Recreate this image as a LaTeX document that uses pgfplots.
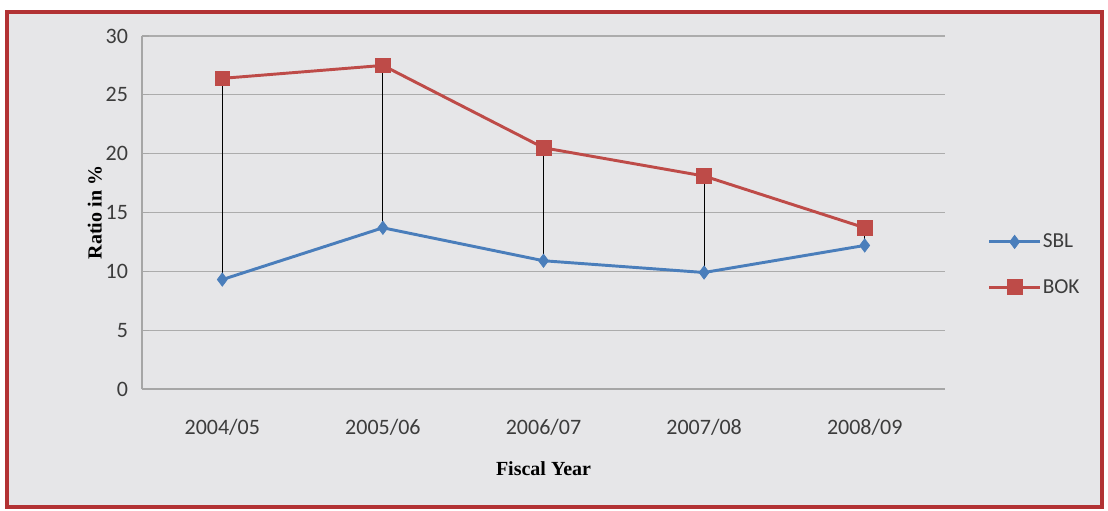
\documentclass[border=0pt]{standalone}
\usepackage{pgfplots}
\pgfplotsset{compat=1.18}
\usepackage{fontspec}
\setmainfont{Carlito}
\newfontfamily\serifb{Liberation Serif}
\definecolor{sbl}{RGB}{74,126,187}
\definecolor{bok}{RGB}{190,75,72}
\definecolor{bg}{RGB}{230,230,232}
\definecolor{frame}{RGB}{178,50,52}
\definecolor{txt}{RGB}{60,60,60}
\begin{document}
\begin{tikzpicture}[x=0.75pt,y=0.75pt]
\path[fill=white] (-142,-122) rectangle (966,389);
\draw[frame, line width=2.5pt, fill=bg] (-135,-118) rectangle (960,377);
\begin{axis}[
  at={(0,0)}, anchor=south west,
  scale only axis, width=602.25pt, height=264.75pt,
  xmin=-0.5, xmax=4.5, ymin=0, ymax=30,
  ytick={0,5,...,30},
  xtick={0,1,2,3,4},
  xticklabels={2004/05,2005/06,2006/07,2007/08,2008/09},
  /pgf/number format/assume math mode=true,
  axis x line*=bottom, axis y line*=left,
  axis line style={draw=gray!70, line width=0.8pt, -},
  ymajorgrids, grid style={gray!65, line width=0.8pt},
  major tick length=5pt,
  ytick style={draw=gray!70, line width=0.8pt},
  xtick style={draw=none},
  tick label style={font=\fontsize{16.5}{18}\selectfont, text=txt},
  yticklabel style={xshift=-7pt},
  xticklabel style={yshift=-19pt},
  xlabel={\serifb\bfseries Fiscal Year},
  ylabel={\serifb\bfseries Ratio in \%},
  label style={font=\fontsize{15}{17}\selectfont},
  xlabel style={yshift=-13pt},
  ylabel style={yshift=-4pt},
  legend style={at={(1.048,0.455)}, anchor=north west, draw=none, fill=none,
    font=\fontsize{16}{18}\selectfont, text=txt, row sep=18pt,
    nodes={inner xsep=1pt}},
  legend image code/.code={\draw[mark repeat=2,mark phase=2] plot coordinates {(0pt,0pt)(19pt,0pt)(38pt,0pt)};},
  legend cell align=left,
  clip=false,
]
\addplot[black, line width=0.6pt, forget plot] coordinates {(0,9.3) (0,26.4)};
\addplot[black, line width=0.6pt, forget plot] coordinates {(1,13.7) (1,27.5)};
\addplot[black, line width=0.6pt, forget plot] coordinates {(2,10.9) (2,20.5)};
\addplot[black, line width=0.6pt, forget plot] coordinates {(3,9.9) (3,18.1)};
\addplot[black, line width=0.6pt, forget plot] coordinates {(4,12.2) (4,13.7)};
\addplot[sbl, line width=2.2pt, mark=diamond*, mark size=5pt, mark options={fill=sbl, line width=0.5pt}]
  coordinates {(0,9.3) (1,13.7) (2,10.9) (3,9.9) (4,12.2)};
\addlegendentry{SBL}
\addplot[bok, line width=2.2pt, mark=square*, mark size=5.5pt, mark options={fill=bok, line width=0.5pt}]
  coordinates {(0,26.4) (1,27.5) (2,20.5) (3,18.1) (4,13.7)};
\addlegendentry{BOK}
\end{axis}
\end{tikzpicture}
\end{document}
